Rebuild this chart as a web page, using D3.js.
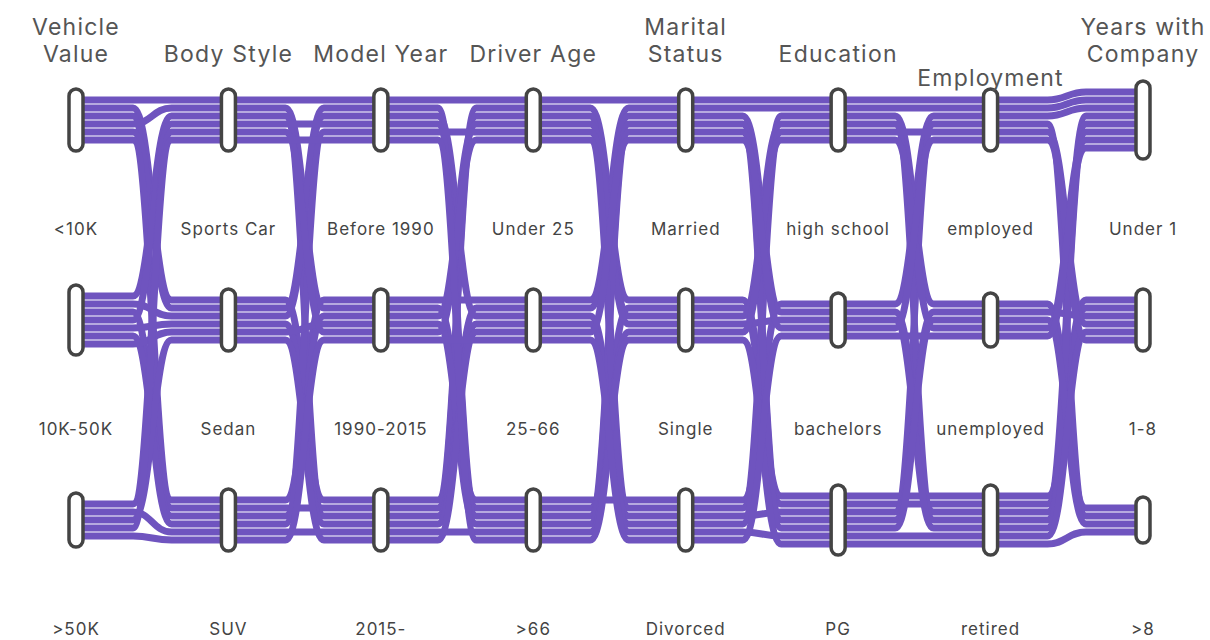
<!DOCTYPE html>
<html>
<head>
<meta charset="utf-8">
<script src="https://cdn.jsdelivr.net/npm/d3@7"></script>
<style>
  html, body { margin: 0; padding: 0; background: #fff; }
  svg { display: block; }
  text { font-family: Inter, "DejaVu Sans", sans-serif; }
</style>
</head>
<body>
<svg id="chart" width="1210" height="640"></svg>
<script>
// ---------- data ----------
const dimensions = ["Vehicle Value", "Body Style", "Model Year", "Driver Age",
                    "Marital Status", "Education", "Employment", "Years with Company"];
const titleLines = [["Vehicle", "Value"], ["Body Style"], ["Model Year"], ["Driver Age"],
                    ["Marital", "Status"], ["Education"], ["Employment"], ["Years with", "Company"]];
const vehicleValue = ["<10K", "10K-50K", ">50K"];
const bodyStyle = ["Sports Car", "Sedan", "SUV"];
const modelYear = ["Before 1990", "1990-2015", "2015-"];
const driverAge = ["Under 25", "25-66", ">66"];
const maritalStatus = ["Married", "Single", "Divorced"];
const education = ["high school", "bachelors", "PG"];
const employment = ["employed", "unemployed", "retired"];
const yearsWithCompany = ["Under 1", "1-8", ">8"];
const categories = [vehicleValue, bodyStyle, modelYear, driverAge,
                    maritalStatus, education, employment, yearsWithCompany];

// each record: category index per dimension
const records = [
  [0,0,0,0,0,0,0,0],
  [0,1,2,0,1,2,2,1],
  [0,2,1,1,0,0,0,0],
  [0,0,1,2,2,1,0,0],
  [0,1,0,2,1,2,2,0],
  [0,2,2,0,2,0,1,2],
  [1,0,2,1,0,1,2,1],
  [1,1,0,1,2,2,0,2],
  [1,2,1,0,1,0,2,0],
  [1,0,0,2,0,2,1,1],
  [1,1,2,1,2,0,0,1],
  [1,2,0,0,1,1,2,0],
  [1,1,1,2,0,2,1,2],
  [2,0,1,0,2,2,2,1],
  [2,2,2,2,1,0,1,0],
  [2,1,2,1,0,1,0,1],
  [2,0,0,2,1,2,2,2],
  [2,2,1,1,2,1,1,0]
];

// ---------- layout ----------
const svg = d3.select("#chart");
const x = d3.scalePoint().domain(dimensions).range([76, 1143]);
const levelY = d3.scalePoint().domain([0, 1, 2]).range([120, 520]);
const spacing = 8;
const purple = "#6f54bf";
const titleShift = [0, 0, 0, 0, 0, 0, 24, 0];

// slot positions of every record inside every node
const slot = records.map(() => []);
const nodeCounts = dimensions.map(() => [0, 0, 0]);
dimensions.forEach((dim, di) => {
  [0, 1, 2].forEach(ci => {
    const members = records.map((r, i) => i).filter(i => records[i][di] === ci);
    nodeCounts[di][ci] = members.length;
    members.forEach((ri, k) => {
      slot[ri][di] = levelY(ci) + (k - (members.length - 1) / 2) * spacing;
    });
  });
});

const a = 57, c = 18;
function recordPath(ri) {
  const p = d3.path();
  dimensions.forEach((dim, di) => {
    const xi = x(dim), yi = slot[ri][di];
    if (di === 0) { p.moveTo(xi, yi); }
    const next = dimensions[di + 1];
    if (!next) return;
    const xn = x(next), yn = slot[ri][di + 1];
    p.lineTo(xi + a, yi);
    p.bezierCurveTo(xi + a + c, yi, xn - a - c, yn, xn - a, yn);
    p.lineTo(xn, yn);
  });
  return p.toString();
}

// links
svg.append("g")
  .selectAll("path")
  .data(records.map((r, i) => i))
  .join("path")
  .attr("d", d => recordPath(d))
  .attr("fill", "none")
  .attr("stroke", purple)
  .attr("stroke-width", 7);

// nodes
const nodes = [];
dimensions.forEach((dim, di) => {
  [0, 1, 2].forEach(ci => nodes.push({ di, ci, n: nodeCounts[di][ci] }));
});
const nodeW = 14;
svg.append("g")
  .selectAll("rect")
  .data(nodes)
  .join("rect")
  .attr("x", d => x(dimensions[d.di]) - nodeW / 2)
  .attr("y", d => levelY(d.ci) - (d.n * spacing + 14) / 2)
  .attr("width", nodeW)
  .attr("height", d => d.n * spacing + 14)
  .attr("rx", 7)
  .attr("fill", "#fff")
  .attr("stroke", "#444")
  .attr("stroke-width", 3.5);

// category labels
svg.append("g")
  .selectAll("text")
  .data(nodes)
  .join("text")
  .attr("x", d => x(dimensions[d.di]))
  .attr("y", d => levelY(d.ci) + 110)
  .attr("text-anchor", "middle")
  .attr("dominant-baseline", "middle")
  .attr("font-size", 17)
  .attr("letter-spacing", 1)
  .attr("fill", "#444")
  .text(d => categories[d.di][d.ci]);

// dimension titles
const tg = svg.append("g");
dimensions.forEach((dim, di) => {
  const lines = titleLines[di];
  const t = tg.append("text")
    .attr("x", x(dim))
    .attr("text-anchor", "middle")
    .attr("font-size", 23)
    .attr("letter-spacing", 1.2)
    .attr("fill", "#555");
  lines.forEach((ln, li) => {
    t.append("tspan")
      .attr("x", x(dim))
      .attr("y", 62 + titleShift[di] - (lines.length - 1 - li) * 27)
      .text(ln);
  });
});
</script>
</body>
</html>
